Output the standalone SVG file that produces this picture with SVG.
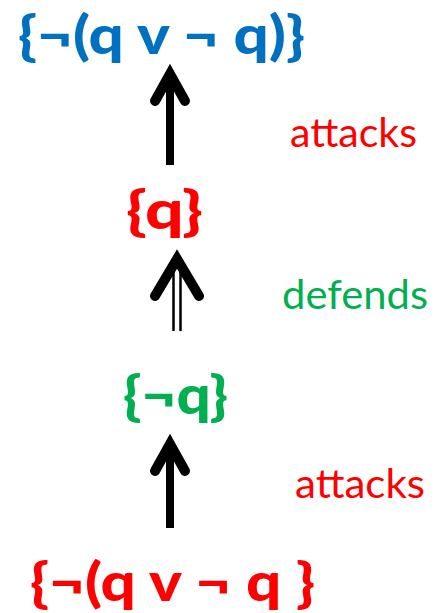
<svg xmlns="http://www.w3.org/2000/svg" width="437" height="613" viewBox="0 0 437 613">
  <style>
    .set { font-family: Lato, "Liberation Sans", sans-serif; font-weight: 900; font-size: 54px; }
    .lbl { font-family: Lato, "Liberation Sans", sans-serif; font-size: 41px; }
    .blue { fill: #0070C0; }
    .red { fill: #FF0000; }
    .green { fill: #00B050; }
    .shaft { stroke: #000; stroke-width: 8; fill: none; }
    .head { stroke: #000; stroke-width: 10; fill: none; stroke-linecap: round; stroke-linejoin: miter; }
    .thin { stroke: #000; stroke-width: 2.5; fill: none; }
  </style>

  <g id="node-top">
    <text class="set blue" x="18" y="54" textLength="287" lengthAdjust="spacingAndGlyphs">{¬(q v ¬ q)}</text>
  </g>
  <g id="node-q">
    <text class="set red" x="126" y="229" textLength="77" lengthAdjust="spacingAndGlyphs">{q}</text>
  </g>
  <g id="node-notq">
    <text class="set green" x="123" y="414" textLength="105" lengthAdjust="spacingAndGlyphs">{¬q}</text>
  </g>
  <g id="node-bottom">
    <text class="set red" x="30" y="601" textLength="285" lengthAdjust="spacingAndGlyphs">{¬(q v ¬ q }</text>
  </g>

  <g id="connectors">
    <!-- attacks: {q} -> top -->
    <line class="shaft" x1="170" y1="165" x2="170" y2="74"/>
    <polyline class="head" points="155,101 170,74 185,101"/>
    <text class="lbl red" x="290" y="147" textLength="127" lengthAdjust="spacingAndGlyphs">attacks</text>

    <!-- defends: {¬q} => {q} -->
    <line class="thin" x1="173.5" y1="331" x2="173.5" y2="266"/>
    <line class="thin" x1="180.5" y1="331" x2="180.5" y2="266"/>
    <polyline class="head" points="155,296 177,259 199,296"/>
    <text class="lbl green" x="282" y="309" textLength="146" lengthAdjust="spacingAndGlyphs">defends</text>

    <!-- attacks: bottom -> {¬q} -->
    <line class="shaft" x1="170" y1="528" x2="170" y2="444"/>
    <polyline class="head" points="155,471 170,444 185,471"/>
    <text class="lbl red" x="295" y="498" textLength="130" lengthAdjust="spacingAndGlyphs">attacks</text>
  </g>
</svg>
